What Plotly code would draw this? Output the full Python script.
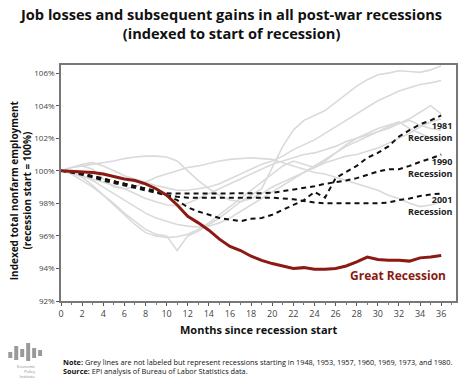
import plotly.graph_objects as go

months = list(range(0, 37))

great_recession = [100, 99.98, 99.95, 99.9, 99.8, 99.65, 99.5, 99.4, 99.2, 98.9, 98.5, 97.9, 97.2,
                   96.8, 96.35, 95.8, 95.35, 95.1, 94.75, 94.5, 94.3, 94.15, 94.0, 94.05, 93.95,
                   93.95, 94.0, 94.15, 94.4, 94.7, 94.55, 94.5, 94.5, 94.45, 94.65, 94.7, 94.8]

r1981 = [100, 99.9, 99.75, 99.6, 99.4, 99.25, 99.1, 98.95, 98.8, 98.65, 98.5, 98.2, 97.75,
         97.5, 97.3, 97.1, 97.0, 96.9, 97.05, 97.1, 97.3, 97.6, 97.9, 98.2, 98.7,
         98.35, 99.55, 99.9, 100.3, 100.8, 101.1, 101.5, 102.1, 102.5, 102.85, 103.1, 103.4]

r1990 = [100, 99.92, 99.82, 99.65, 99.5, 99.35, 99.2, 99.05, 98.9, 98.75, 98.62, 98.6, 98.6,
         98.6, 98.6, 98.6, 98.6, 98.6, 98.6, 98.62, 98.65, 98.75, 98.85, 98.95, 99.05,
         99.2, 99.3, 99.4, 99.55, 99.75, 99.95, 100.1, 100.1, 100.3, 100.55, 100.75, 101.0]

r2001 = [100, 99.95, 99.85, 99.7, 99.52, 99.36, 99.2, 99.05, 98.9, 98.7, 98.5, 98.4, 98.35,
         98.35, 98.35, 98.35, 98.35, 98.35, 98.35, 98.35, 98.35, 98.3, 98.25, 98.15, 98.05,
         98.0, 98.0, 98.0, 98.0, 98.0, 98.0, 98.05, 98.2, 98.3, 98.45, 98.55, 98.6]

g1948 = [100, 99.8, 99.4, 99.0, 98.5, 98.0, 97.4, 96.9, 96.4, 96.1, 96.0, 95.1, 96.0,
         96.3, 96.7, 97.1, 97.6, 98.1, 98.5, 98.9, 100.2, 101.5, 102.5, 103.1, 103.4,
         103.7, 104.2, 104.7, 105.2, 105.6, 105.9, 106.0, 106.15, 106.1, 106.05, 106.2, 106.45]
g1953 = [100, 99.9, 99.7, 99.4, 99.0, 98.6, 98.2, 97.8, 97.4, 97.1, 96.9, 96.7, 96.6,
         96.55, 96.6, 96.8, 97.1, 97.5, 97.9, 98.3, 98.7, 99.1, 99.5, 99.9, 100.3,
         100.7, 101.1, 101.5, 101.8, 102.1, 102.4, 102.7, 102.9, 103.1, 102.8, 102.6, 102.5]
g1957 = [100, 99.9, 99.6, 99.1, 98.5, 97.9, 97.3, 96.7, 96.2, 96.0, 95.9, 95.95, 96.1,
         96.4, 96.8, 97.3, 97.8, 98.3, 98.8, 99.3, 99.8, 100.3, 100.6, 100.4, 100.2,
         100.6, 101.1, 101.6, 102.0, 102.3, 102.6, 102.8, 103.0, 102.6, 102.3, 102.0, 101.8]
g1960 = [100, 99.9, 99.7, 99.5, 99.3, 99.1, 98.9, 98.6, 98.3, 98.1, 97.9, 97.85, 98.0,
         98.3, 98.6, 98.9, 99.2, 99.5, 99.8, 100.1, 100.4, 100.6, 100.8, 101.0, 101.1,
         101.3, 101.5, 101.8, 102.0, 102.2, 102.4, 102.6, 102.9, 103.2, 103.6, 104.0, 103.5]
g1969 = [100, 100.2, 100.4, 100.5, 100.3, 100.0, 99.7, 99.5, 99.3, 99.1, 98.95, 98.8, 98.8,
         98.9, 99.0, 99.2, 99.5, 99.8, 100.1, 100.4, 100.6, 100.9, 101.3, 101.6, 101.9,
         102.3, 102.7, 103.1, 103.5, 103.9, 104.3, 104.6, 104.9, 105.1, 105.3, 105.4, 105.55]
g1973 = [100, 100.2, 100.3, 100.4, 100.5, 100.6, 100.75, 100.85, 100.9, 100.9, 100.85, 100.6, 100.0,
         99.4, 98.9, 98.5, 98.2, 98.1, 98.3, 98.6, 99.0, 99.3, 99.6, 99.9, 100.2,
         100.5, 100.7, 100.9, 101.0, 101.2, 101.4, 101.7, 102.0, 102.3, 102.7, 103.0, 103.2]
g1980 = [100, 100.2, 100.3, 100.1, 99.5, 99.0, 98.9, 99.0, 99.3, 99.6, 99.8, 100.0, 100.2,
         100.3, 100.45, 100.6, 100.7, 100.75, 100.8, 100.75, 100.7, 100.5, 100.3, 100.1, 99.9,
         99.8, 99.6, 99.4, 99.2, 99.0, 98.8, 98.5, 98.3, 98.0, 97.8, 97.9, 98.1]

grey_series = [g1948, g1953, g1957, g1960, g1969, g1973, g1980]
dashed_series = [r1981, r1990, r2001]

y_ticks = [92, 94, 96, 98, 100, 102, 104, 106]
y_tick_labels = ["92%", "94%", "96%", "98%", "100%", "102%", "104%", "106%"]
x_ticks = list(range(0, 37, 2))

FONT = "Open Sans"
RED = "#8b1a12"

fig = go.Figure()
for s in grey_series:
    fig.add_trace(go.Scatter(x=months, y=s, mode="lines",
                             line=dict(color="#dadada", width=1.6), hoverinfo="skip"))
for s in dashed_series:
    fig.add_trace(go.Scatter(x=months, y=s, mode="lines",
                             line=dict(color="#111111", width=2, dash="5px,4px")))
fig.add_trace(go.Scatter(x=months, y=great_recession, mode="lines",
                         line=dict(color=RED, width=3)))

# pixel helpers for paper coords
L, R, T, B = 61, 458, 65, 301
def px(x):
    return (x - L) / (R - L)
def py(y):
    return (B - y) / (B - T)

annotations = [
    dict(x=px(231), y=py(23), xref="paper", yref="paper",
         text="<b>Job losses and subsequent gains in all post-war recessions<br>(indexed to start of recession)</b>",
         showarrow=False, xanchor="center", yanchor="middle", align="center",
         font=dict(family=FONT, size=14.6, color="#111")),
    dict(x=37.25, y=102.42, xref="x", yref="y", text="<b>1981<br>Recession</b>", showarrow=False,
         xanchor="right", align="right", font=dict(family=FONT, size=9, color="#222")),
    dict(x=37.25, y=100.18, xref="x", yref="y", text="<b>1990<br>Recession</b>", showarrow=False,
         xanchor="right", align="right", font=dict(family=FONT, size=9, color="#222")),
    dict(x=37.25, y=97.86, xref="x", yref="y", text="<b>2001<br>Recession</b>", showarrow=False,
         xanchor="right", align="right", font=dict(family=FONT, size=9, color="#222")),
    dict(x=36.6, y=93.56, xref="x", yref="y", text="<b>Great Recession</b>", showarrow=False,
         xanchor="right", font=dict(family=FONT, size=12, color=RED)),
    dict(x=px(260), y=py(329), xref="paper", yref="paper", text="<b>Months since recession start</b>",
         showarrow=False, xanchor="center", yanchor="middle", font=dict(family=FONT, size=11, color="#111")),
    dict(x=px(20), y=py(190), xref="paper", yref="paper",
         text="<b>Indexed total nonfarm employment<br>(recession start = 100%)</b>",
         showarrow=False, textangle=-90, xanchor="center", yanchor="middle",
         font=dict(family=FONT, size=10, color="#111")),
    dict(x=px(61), y=py(366), xref="paper", yref="paper",
         text="<b>Note:</b> Grey lines are not labeled but represent recessions starting in 1948, 1953, 1957, 1960, 1969, 1973, and 1980.<br><b>Source:</b> EPI analysis of Bureau of Labor Statistics data.",
         showarrow=False, xanchor="left", yanchor="middle", align="left",
         font=dict(family=FONT, size=7.3, color="#111")),
    dict(x=px(38), y=py(371), xref="paper", yref="paper",
         text="Economic<br>Policy<br>Institute", showarrow=False, xanchor="right", yanchor="middle",
         align="right", font=dict(family=FONT, size=4, color="#888")),
]

shapes = []
bars = [(8, 352, 358), (14, 346, 360), (20, 349, 357), (26, 343, 361), (32, 348, 358), (38, 350, 356)]
for bx, y0, y1 in bars:
    shapes.append(dict(type="rect", xref="paper", yref="paper", x0=px(bx), x1=px(bx + 4),
                       y0=py(y1), y1=py(y0), fillcolor="#9a9a9a", line=dict(width=0)))

fig.update_layout(
    width=465, height=381,
    margin=dict(l=L, r=465 - R, t=T, b=381 - B),
    paper_bgcolor="white", plot_bgcolor="white",
    showlegend=False,
    annotations=annotations,
    shapes=shapes,
)
fig.update_xaxes(range=[0, 37.4], tickvals=x_ticks, ticks="outside", ticklen=3, tickcolor="#555",
                 showgrid=False, zeroline=False, showline=True, linecolor="#777", linewidth=1.5, mirror=True,
                 tickfont=dict(family=FONT, size=9, color="#444"),
                 minor=dict(dtick=1, ticks="outside", ticklen=2, tickcolor="#777"))
fig.update_yaxes(range=[92, 106.5], tickvals=y_ticks, ticktext=y_tick_labels, ticks="outside", ticklen=3,
                 tickcolor="#555", showgrid=False, zeroline=False, showline=True, linecolor="#777",
                 linewidth=1.5, mirror=True, tickfont=dict(family=FONT, size=8, color="#444"))

fig.write_html("out.html", config={"displayModeBar": False},
               post_script="document.body.style.margin='0px';document.body.style.overflow='hidden';")
